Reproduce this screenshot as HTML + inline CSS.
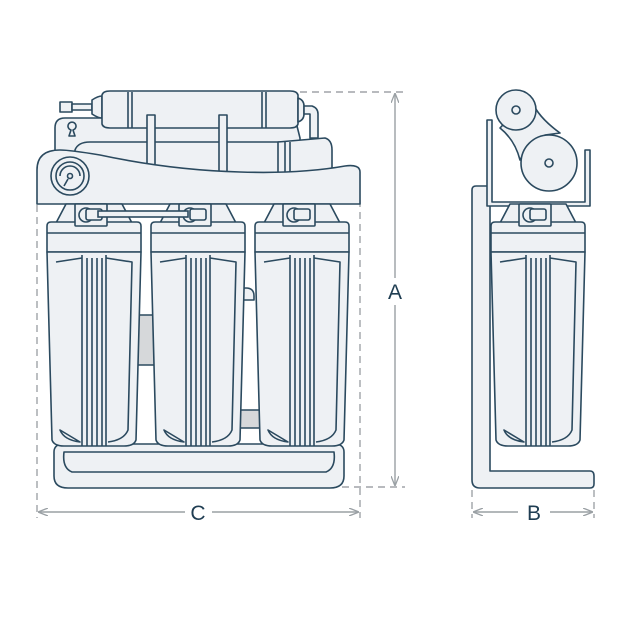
<!DOCTYPE html>
<html><head><style>html,body{margin:0;padding:0;background:#fff}svg{display:block}</style></head>
<body>
<svg width="640" height="619" viewBox="0 0 640 619" xmlns="http://www.w3.org/2000/svg">
<defs>
<marker id="ar" markerWidth="10" markerHeight="8" refX="9" refY="4" orient="auto-start-reverse" markerUnits="userSpaceOnUse">
<path d="M0,0 L10,4 L0,8" fill="none" stroke="#9aa0a4" stroke-width="1.3"/>
</marker>
<g id="hs" fill="#eef1f4" stroke="#2b4a5f" stroke-width="1.6" stroke-linejoin="round">
<path d="M-28,204 L28,204 L38,223 L-38,223 Z"/>
<path d="M-47,226 Q-47,222 -43,222 L43,222 Q47,222 47,226 L47,252 L-47,252 Z"/>
<line x1="-47" y1="233" x2="47" y2="233"/>
<path d="M-47,252 L47,252 L42,440 Q40,446 30,446 L-30,446 Q-40,446 -42,440 Z"/>
<path d="M-38,262 L-12,258 M12,258 L38,262 L34,430 Q30,440 14,442 M-14,442 Q-30,440 -34,430 Z" fill="none"/>
<path d="M-12,255 L-12,446 M-7,258 L-7,446 M-2,258 L-2,446 M3,258 L3,446 M8,258 L8,446 M12,255 L12,446" fill="none"/>
<rect x="-19" y="204" width="32" height="22" rx="1"/>
<circle cx="-8" cy="215" r="7"/>
<rect x="-8" y="209" width="16" height="11" rx="2"/>
</g>
</defs>

<g stroke="#a0a4a8" stroke-width="1.4" fill="none" stroke-dasharray="7,5">
<line x1="300" y1="92" x2="405" y2="92"/>
<line x1="330" y1="487" x2="405" y2="487"/>
<line x1="37" y1="205" x2="37" y2="518"/>
<line x1="360" y1="200" x2="360" y2="518"/>
<line x1="472" y1="490" x2="472" y2="518"/>
<line x1="594" y1="490" x2="594" y2="518"/>
</g>
<g stroke="#9aa0a4" stroke-width="1.4" fill="none">
<line x1="395" y1="94" x2="395" y2="278" marker-start="url(#ar)"/>
<line x1="395" y1="305" x2="395" y2="485" marker-end="url(#ar)"/>
<line x1="39" y1="512" x2="185" y2="512" marker-start="url(#ar)"/>
<line x1="212" y1="512" x2="358" y2="512" marker-end="url(#ar)"/>
<line x1="474" y1="512" x2="518" y2="512" marker-start="url(#ar)"/>
<line x1="550" y1="512" x2="592" y2="512" marker-end="url(#ar)"/>
</g>
<g font-family="Liberation Sans, sans-serif" font-size="21" fill="#1f3d52" text-anchor="middle">
<text x="395" y="299">A</text>
<text x="198" y="520">C</text>
<text x="534" y="520">B</text>
</g>

<g fill="#eef1f4" stroke="#2b4a5f" stroke-width="1.6" stroke-linejoin="round">
<path d="M55,128 Q55,118 65,118 L295,118 L300,138 L300,200 L55,200 Z"/>
<path d="M75,150 Q78,142 90,142 L290,142 L290,200 L75,200 Z"/>
<path d="M71,130 a4,4 0 1,1 2,0 l2,6 l-6,0 Z"/>
<path d="M278,142 L325,138 Q332,140 332,150 L332,175 L278,178 Z"/>
<line x1="290" y1="142" x2="290" y2="176"/>
<line x1="285" y1="142" x2="285" y2="178"/>
<path d="M60,102 L72,102 L72,112 L60,112 Z"/>
<path d="M72,104 L92,104 L92,110 L72,110 Z"/>
<path d="M92,100 Q98,96 102,96 L102,118 Q98,118 92,114 Z"/>
<path d="M102,95 Q103,91 110,91 L290,91 Q297,91 298,95 L298,124 Q297,128 290,128 L110,128 Q103,128 102,124 Z"/>
<line x1="128" y1="92" x2="128" y2="128"/><line x1="132" y1="92" x2="132" y2="128"/>
<line x1="262" y1="92" x2="262" y2="128"/><line x1="266" y1="92" x2="266" y2="128"/>
<path d="M298,98 Q304,100 304,106 L304,114 Q304,120 298,122 Z"/>
<path d="M304,106 L312,106 Q318,108 318,114 L318,138 L310,138 L310,114 L304,114 Z"/>
<rect x="147" y="115" width="8" height="58"/>
<rect x="219" y="115" width="8" height="58"/>
<path d="M37,200 L37,170 Q37,150 60,150 Q70,150 100,155 Q170,170 240,172 Q300,174 345,166 Q360,164 360,172 L360,204 L37,204 Z"/>
<circle cx="70" cy="176" r="19"/>
<circle cx="70" cy="176" r="14"/>
<path d="M60,176 a10,10 0 1,1 20,0" fill="none"/>
<circle cx="70" cy="176" r="2.5"/>
<line x1="68" y1="179" x2="64" y2="186"/>
<rect x="130" y="315" width="30" height="50" fill="#d6d8da"/>
<rect x="232" y="410" width="34" height="18" fill="#d6d8da"/>
<path d="M240,290 Q240,288 246,288 Q254,288 254,296 L254,300 L240,300 Z" fill="#eef1f4"/>
<path d="M54,452 Q54,444 64,444 L334,444 Q344,444 344,452 L344,476 Q344,488 330,488 L68,488 Q54,488 54,476 Z"/>
<path d="M64,452 L334,452 Q336,468 326,472 L72,472 Q62,468 64,452 Z"/>
</g>
<use href="#hs" x="94" y="0"/>
<use href="#hs" x="198" y="0"/>
<use href="#hs" x="302" y="0"/>
<g fill="#eef1f4" stroke="#2b4a5f" stroke-width="1.6">
<rect x="98" y="211" width="90" height="6"/>
</g>

<g fill="#eef1f4" stroke="#2b4a5f" stroke-width="1.6" stroke-linejoin="round">
<path d="M476,186 L490,186 L490,471 L590,471 Q594,471 594,476 L594,484 Q594,488 590,488 L480,488 Q472,488 472,480 L472,190 Q472,186 476,186 Z"/>
<path d="M487,120 L492,120 L492,202 L585,202 L585,150 L590,150 L590,206 L487,206 Z"/>
<path d="M530,96 Q535,115 560,133 L545,135 Q525,150 520,160 Q515,140 500,128 Z"/>
<circle cx="516" cy="110" r="20"/>
<circle cx="516" cy="110" r="4"/>
<circle cx="549" cy="163" r="28"/>
<circle cx="549" cy="163" r="4"/>
</g>
<use href="#hs" x="538" y="0"/>
</svg>
</body></html>
